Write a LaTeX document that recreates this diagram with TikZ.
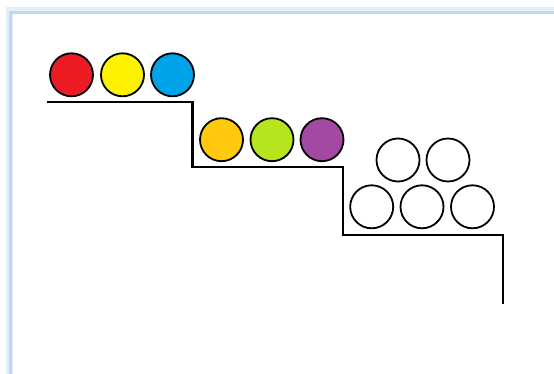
\documentclass[tikz,border=0pt]{standalone}
\definecolor{ballred}{RGB}{237,28,36}
\definecolor{ballyellow}{RGB}{255,242,0}
\definecolor{ballblue}{RGB}{0,162,232}
\definecolor{ballorange}{RGB}{255,201,14}
\definecolor{ballgreen}{RGB}{181,230,29}
\definecolor{ballpurple}{RGB}{163,73,164}
\definecolor{frameblue}{RGB}{192,216,240}
\definecolor{frameglow}{RGB}{228,239,250}
\begin{document}
\begin{tikzpicture}[x=1pt,y=-1pt,
  ball/.style={circle,draw=black,line width=1.8pt,minimum size=43pt,inner sep=0pt},
  stair/.style={draw=black,line width=2.2pt}]
\useasboundingbox (0,0) rectangle (554,374);
\clip (0,0) rectangle (554,374);
% frame
\draw[frameglow,line width=7pt] (9,11) rectangle (600,420);
\draw[frameblue,line width=3.5pt] (10.5,12.5) rectangle (600,420);
% stairs
\draw[stair] (47.3,101.7) -- (192.5,101.7) -- (192.5,166.7) -- (342.7,166.7)
  -- (342.7,235) -- (502.7,235) -- (502.7,303.5);
% row 1
\node[ball,fill=ballred] (r) at (71.5,74.8) {};
\node[ball,fill=ballyellow] (y) at (122.5,74.8) {};
\node[ball,fill=ballblue] (b) at (172.5,74.8) {};
% row 2
\node[ball,fill=ballorange] (o) at (221.5,139.7) {};
\node[ball,fill=ballgreen] (g) at (272,139.7) {};
\node[ball,fill=ballpurple] (p) at (322,139.7) {};
% row 3 (white)
\node[ball,fill=white] (w1) at (371.7,206.8) {};
\node[ball,fill=white] (w2) at (422,206.8) {};
\node[ball,fill=white] (w3) at (472.5,206.8) {};
\node[ball,fill=white] (w4) at (398,160) {};
\node[ball,fill=white] (w5) at (448,160) {};
\end{tikzpicture}
\end{document}
